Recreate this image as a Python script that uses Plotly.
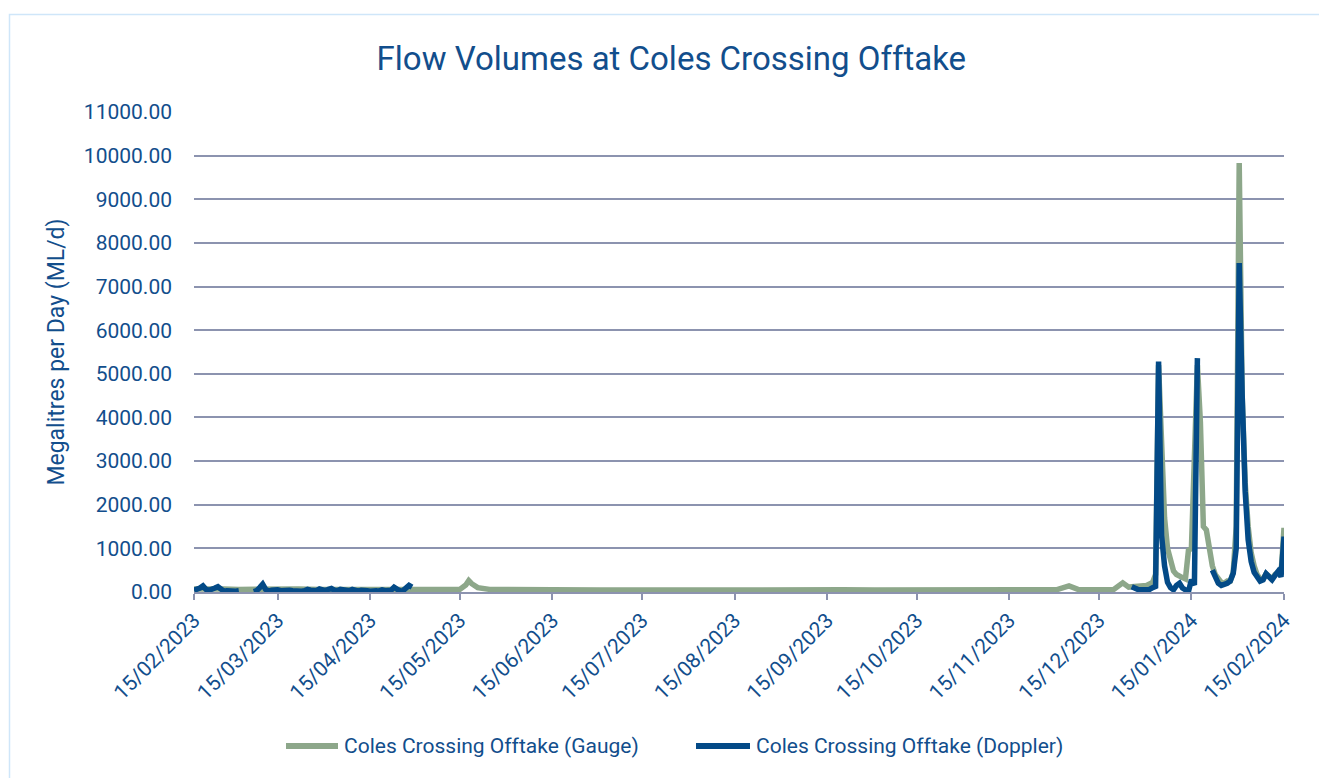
import pandas as pd
import plotly.graph_objects as go

# Monthly tick positions on the date axis and their printed labels
tick_dates = [
    "2023-02-15", "2023-03-15", "2023-04-15", "2023-05-15", "2023-06-15",
    "2023-07-15", "2023-08-15", "2023-09-15", "2023-10-15", "2023-11-15",
    "2023-12-15", "2024-01-15", "2024-02-15",
]
tick_labels = [
    "15/02/2023", "15/03/2023", "15/04/2023", "15/05/2023", "15/06/2023",
    "15/07/2023", "15/08/2023", "15/09/2023", "15/10/2023", "15/11/2023",
    "15/12/2023", "15/01/2024", "15/02/2024",
]

series_names = ["Coles Crossing Offtake (Gauge)", "Coles Crossing Offtake (Doppler)"]

# Gauge readings (ML/d)
gauge_dates = [
    "2023-02-15", "2023-02-20", "2023-02-25", "2023-03-02", "2023-03-09",
    "2023-03-15", "2023-03-22", "2023-03-29", "2023-04-05", "2023-04-12",
    "2023-04-19", "2023-04-26", "2023-05-03", "2023-05-10", "2023-05-15",
    "2023-05-17", "2023-05-18", "2023-05-19", "2023-05-21", "2023-05-25",
    "2023-06-01", "2023-06-15", "2023-07-01", "2023-07-15", "2023-08-01",
    "2023-08-15", "2023-09-01", "2023-09-10", "2023-09-20", "2023-10-01",
    "2023-10-15", "2023-11-01", "2023-11-15", "2023-11-25", "2023-12-01",
    "2023-12-05", "2023-12-08", "2023-12-15", "2023-12-20", "2023-12-23",
    "2023-12-25", "2023-12-26", "2023-12-28", "2023-12-31", "2024-01-02",
    "2024-01-03", "2024-01-04", "2024-01-05", "2024-01-06", "2024-01-07",
    "2024-01-08", "2024-01-09", "2024-01-10", "2024-01-11", "2024-01-12",
    "2024-01-13", "2024-01-14", "2024-01-15", "2024-01-16", "2024-01-17",
    "2024-01-18", "2024-01-19", "2024-01-20", "2024-01-21", "2024-01-22",
    "2024-01-23", "2024-01-24", "2024-01-25", "2024-01-26", "2024-01-27",
    "2024-01-28", "2024-01-29", "2024-01-30", "2024-01-31", "2024-02-01",
    "2024-02-02", "2024-02-03", "2024-02-04", "2024-02-05", "2024-02-06",
    "2024-02-07", "2024-02-08", "2024-02-09", "2024-02-10", "2024-02-11",
    "2024-02-12", "2024-02-13", "2024-02-14", "2024-02-15",
]
gauge_ml = [
    70, 80, 70, 60, 70,
    60, 70, 60, 60, 70,
    60, 60, 50, 50, 60,
    160, 260, 190, 100, 60,
    50, 50, 45, 50, 45,
    40, 45, 60, 50, 45,
    50, 45, 55, 60, 55,
    140, 60, 50, 60, 210,
    110, 120, 140, 150, 220,
    400, 5200, 3200, 1700, 1000,
    700, 480, 400, 380, 330,
    300, 950, 1000, 3000, 5200,
    3900, 1500, 1420, 1000, 600,
    400, 280, 220, 200, 250,
    250, 450, 1500, 9830, 4500,
    2500, 1500, 900, 600, 400,
    300, 300, 420, 350, 300,
    400, 450, 400, 1470,
]

# Doppler readings (ML/d), daily runs with outages between them
doppler_run1_start = "2023-02-15"
doppler_run1_ml = [40, 60, 90, 140, 60, 40, 50, 90, 120, 50, 20, 30, 20, 40, 20, 30]

doppler_run2_start = "2023-03-07"
doppler_run2_ml = [
    10, 30, 100, 180, 60, 20, 40, 60, 50, 30, 40, 60, 40, 30, 20, 40, 20, 30,
    60, 40, 20, 30, 70, 40, 30,
    60, 80, 40, 30, 60, 40, 20, 30, 60, 30, 20, 40, 50, 30, 20, 40, 30, 20,
    50, 30, 20, 40, 110, 60, 20, 30, 80, 150, 110,
]

doppler_run3_start = "2023-12-26"
doppler_run3_ml = [
    120, 80, 60, 50, 50, 50, 60, 100, 130, 5280, 1300, 600, 220, 100, 50,
    150, 200, 90, 40, 10, 280, 160, 5360,
]

doppler_run4_start = "2024-01-22"
doppler_run4_ml = [
    500, 330, 200, 150, 170, 200, 250, 430, 1000, 7540, 4500, 2300, 1200,
    700, 450, 330, 250, 280, 420, 350, 280, 380, 470, 350, 1270,
]

# Dates that fall inside the Doppler outages (no reading)
doppler_gap_dates = ["2023-03-04", "2023-08-01", "2024-01-19"]

GAUGE_COLOR = "#8DA78A"
DOPPLER_COLOR = "#034A87"
TEXT_COLOR = "#124E8C"
GRID_COLOR = "#8C93AF"
FONT = "Roboto, 'Open Sans', sans-serif"
LINE_W = 5.5

# Plot-area geometry in pixels, used to place the key below the axis
PLOT_L, PLOT_R, PLOT_T, PLOT_B = 194, 1284, 112, 592
W, H = 1319, 778


def px_x(px):
    return (px - PLOT_L) / (PLOT_R - PLOT_L)


def px_y(py):
    return (PLOT_B - py) / (PLOT_B - PLOT_T)


def daily(start, values):
    return list(pd.date_range(start, periods=len(values)).strftime("%Y-%m-%d"))


runs = [
    (doppler_run1_start, doppler_run1_ml),
    (doppler_run2_start, doppler_run2_ml),
    (doppler_run3_start, doppler_run3_ml),
    (doppler_run4_start, doppler_run4_ml),
]
doppler_x, doppler_y = [], []
for i, (start, vals) in enumerate(runs):
    doppler_x += daily(start, vals)
    doppler_y += vals
    if i < len(doppler_gap_dates):
        doppler_x.append(doppler_gap_dates[i])
        doppler_y.append(None)

fig = go.Figure()
fig.add_trace(go.Scatter(
    x=gauge_dates, y=gauge_ml, mode="lines", name=series_names[0],
    line=dict(color=GAUGE_COLOR, width=LINE_W), showlegend=False,
))
fig.add_trace(go.Scatter(
    x=doppler_x, y=doppler_y, mode="lines", name=series_names[1],
    line=dict(color=DOPPLER_COLOR, width=LINE_W), connectgaps=False,
    showlegend=False,
))

# Key below the chart: a line sample followed by the series name
key_y = 746
key_items = [
    (286, 338, 342, GAUGE_COLOR, series_names[0]),
    (696, 750, 754, DOPPLER_COLOR, series_names[1]),
]
shapes = [dict(
    type="rect", xref="paper", yref="paper",
    x0=px_x(9.5), x1=1.1, y0=-0.5, y1=px_y(14.5),
    line=dict(color="#CFE6F9", width=1.5), fillcolor="rgba(0,0,0,0)",
    layer="below",
)]
annotations = []
for x0, x1, tx, color, label in key_items:
    shapes.append(dict(
        type="line", xref="paper", yref="paper",
        x0=px_x(x0), x1=px_x(x1), y0=px_y(key_y), y1=px_y(key_y),
        line=dict(color=color, width=6),
    ))
    annotations.append(dict(
        xref="paper", yref="paper", x=px_x(tx), y=px_y(key_y),
        xanchor="left", yanchor="middle", showarrow=False, text=label,
        font=dict(family=FONT, size=21, color=TEXT_COLOR),
    ))

fig.update_layout(
    width=W, height=H,
    margin=dict(l=PLOT_L, r=W - PLOT_R, t=PLOT_T, b=H - PLOT_B),
    paper_bgcolor="white", plot_bgcolor="white",
    font=dict(family=FONT, color=TEXT_COLOR),
    title=dict(
        text="Flow Volumes at Coles Crossing Offtake",
        font=dict(family=FONT, size=33, color=TEXT_COLOR),
        x=0.509, xref="container", xanchor="center",
        y=1 - 58 / H, yref="container", yanchor="middle",
    ),
    showlegend=False,
    xaxis=dict(
        type="date", range=["2023-02-15", "2024-02-15"],
        tickvals=tick_dates, ticktext=tick_labels, tickangle=-45,
        ticks="outside", ticklen=6, tickwidth=1.5, tickcolor=GRID_COLOR,
        showline=True, linecolor=GRID_COLOR, linewidth=1.5,
        showgrid=False, zeroline=False,
        tickfont=dict(family=FONT, size=21, color=TEXT_COLOR),
    ),
    yaxis=dict(
        range=[0, 11000], dtick=1000, tickformat=".2f",
        showgrid=True, gridcolor=GRID_COLOR, gridwidth=1.5,
        zeroline=False, showline=False, ticks="",
        ticklabelstandoff=21,
        tickfont=dict(family=FONT, size=21, color=TEXT_COLOR),
        title=dict(text="Megalitres per Day (ML/d)", standoff=12,
                   font=dict(family=FONT, size=23, color=TEXT_COLOR)),
    ),
    shapes=shapes,
    annotations=annotations,
)

fig.write_html("out.html")
